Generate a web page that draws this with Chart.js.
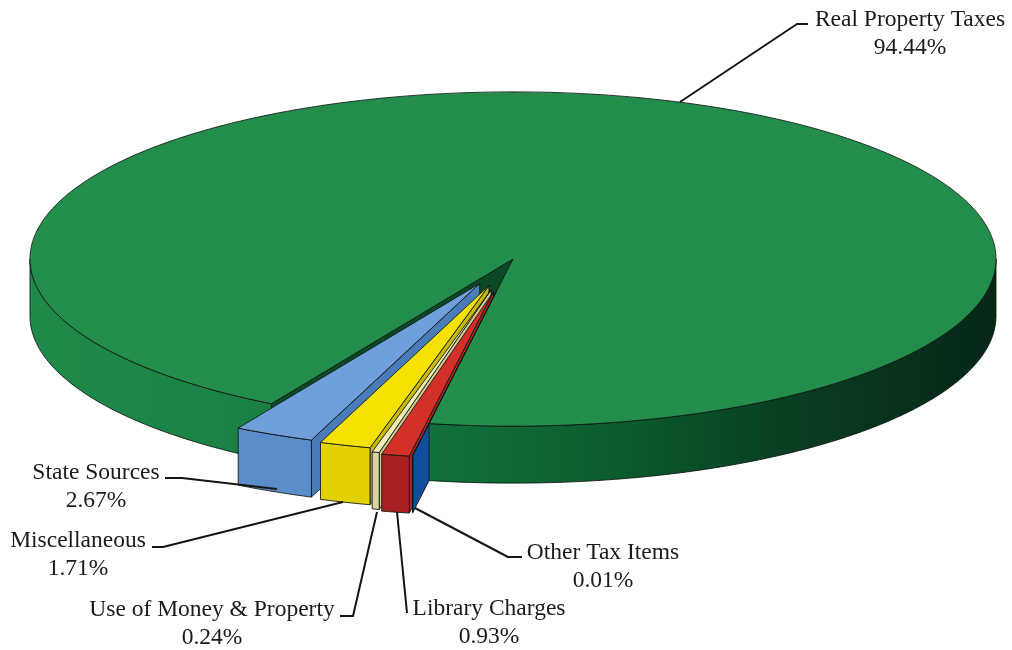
<!DOCTYPE html>
<html>
<head>
<meta charset="utf-8">
<style>
  html, body { margin: 0; padding: 0; background: #fff; }
  #pie { display: block; }
</style>
<script src="https://cdn.jsdelivr.net/npm/chart.js@4"></script>
</head>
<body>
<div style="width:1012px;height:650px"><canvas id="pie" width="1012" height="650"></canvas></div>
<script>
// data, clockwise from the front of the pie
const categories = ['Other Tax Items', 'Library Charges', 'Use of Money & Property', 'Miscellaneous', 'State Sources', 'Real Property Taxes'];
const shares = [0.01, 0.93, 0.24, 1.71, 2.67, 94.44];
const shareLabels = ['0.01%', '0.93%', '0.24%', '1.71%', '2.67%', '94.44%'];

// styles, same order as the data
const topColors = ['#0f4d9e', '#d4302a', '#f0ebb4', '#f5e200', '#6fa0dc', '#238d4c'];
const frontColors = ['#0f4d9e', '#a81f1f', '#d9d39c', '#e2d000', '#5c8dcb', '#1c8547'];
const wallColors = ['#0f4d9e', '#b52222', '#cfc98e', '#c9b800', '#4a7cba', '#0a4a26'];
// how far each slice is pulled out, before squashing
const slicePull = [94, 96, 92, 81, 78, 0];

// layout of the fake 3D
const squash = 0.346;
const depth = 57;
const pieRadius = 483;
const startRotation = 190;
const REAL = 5;
const wallOrder = [4, 3, 2, 1, 0];
const topOrder = [4, 3, 2, 0, 1];

// label text position and leader line, same order as the data
const labelX = [603, 489, 212, 78, 96, 910];
const labelY = [559, 615, 616, 547, 479, 26];
const leaders = [
  [[522, 557], [508, 557], [415, 508]],
  [[407, 613], [397, 512]],
  [[340, 616], [353, 616], [377, 512]],
  [[152, 547], [163, 547], [343, 502]],
  [[165, 478], [182, 478], [277, 489]],
  [[808, 24], [797, 24], [680, 102]]
];

function project(arc, angle, radius, z) {
  const mid = (arc.startAngle + arc.endAngle) / 2;
  return {
    x: arc.x + arc.pull * Math.cos(mid) + radius * Math.cos(angle),
    y: arc.y + squash * (arc.pull * Math.sin(mid) + radius * Math.sin(angle)) + z
  };
}

function outerWallPath(ctx, arc, a1, a2) {
  ctx.beginPath();
  const steps = Math.max(2, Math.ceil((a2 - a1) * 90));
  for (let i = 0; i <= steps; i++) {
    const p = project(arc, a1 + (a2 - a1) * i / steps, arc.outerRadius, 0);
    ctx.lineTo(p.x, p.y);
  }
  for (let i = steps; i >= 0; i--) {
    const p = project(arc, a1 + (a2 - a1) * i / steps, arc.outerRadius, depth);
    ctx.lineTo(p.x, p.y);
  }
  ctx.closePath();
}

function radialWallPath(ctx, arc, angle) {
  const a = project(arc, angle, 0, 0);
  const b = project(arc, angle, arc.outerRadius, 0);
  ctx.beginPath();
  ctx.moveTo(a.x, a.y);
  ctx.lineTo(b.x, b.y);
  ctx.lineTo(b.x, b.y + depth);
  ctx.lineTo(a.x, a.y + depth);
  ctx.closePath();
}

function topOutline(ctx, arc) {
  const tip = project(arc, arc.startAngle, 0, 0);
  ctx.beginPath();
  ctx.moveTo(tip.x, tip.y);
  const steps = Math.max(2, Math.ceil((arc.endAngle - arc.startAngle) * 90));
  for (let i = 0; i <= steps; i++) {
    const p = project(arc, arc.startAngle + (arc.endAngle - arc.startAngle) * i / steps, arc.outerRadius, 0);
    ctx.lineTo(p.x, p.y);
  }
  ctx.closePath();
  ctx.lineWidth = 1;
  ctx.strokeStyle = 'rgba(12,22,16,0.85)';
  ctx.stroke();
}

function fillStroke(ctx, fill) {
  ctx.fillStyle = fill;
  ctx.fill();
  ctx.lineWidth = 1;
  ctx.strokeStyle = 'rgba(12,22,16,0.85)';
  ctx.stroke();
}

function drawTop(ctx, arc) {
  const mid = (arc.startAngle + arc.endAngle) / 2;
  ctx.save();
  ctx.translate(arc.x, arc.y);
  ctx.scale(1, squash);
  ctx.translate(-arc.x, -arc.y);
  ctx.translate(arc.pull * Math.cos(mid), arc.pull * Math.sin(mid));
  arc.draw(ctx);
  ctx.restore();
  topOutline(ctx, arc);
}

const pie3d = {
  id: 'pie3d',
  beforeDatasetsDraw(chart) {
    const ctx = chart.ctx;
    const arcs = chart.getDatasetMeta(0).data;
    const real = arcs[REAL];
    const TAU = Math.PI * 2;
    arcs.forEach((arc, i) => { arc.pull = slicePull[i]; });

    const sideFill = ctx.createLinearGradient(real.x - pieRadius, 0, real.x + pieRadius, 0);
    sideFill.addColorStop(0, '#1f8a4a');
    sideFill.addColorStop(0.2, '#1c8246');
    sideFill.addColorStop(0.42, '#10703a');
    sideFill.addColorStop(0.62, '#0b5a2d');
    sideFill.addColorStop(0.8, '#093c20');
    sideFill.addColorStop(1, '#062616');

    // back part of the big slice: the notch wall and the rim left of the notch
    radialWallPath(ctx, real, real.startAngle);
    fillStroke(ctx, wallColors[REAL]);
    outerWallPath(ctx, real, real.startAngle, Math.PI);
    fillStroke(ctx, sideFill);

    // walls of the pulled out slices
    wallOrder.forEach(i => {
      const arc = arcs[i];
      radialWallPath(ctx, arc, arc.startAngle);
      fillStroke(ctx, wallColors[i]);
      outerWallPath(ctx, arc, arc.startAngle, arc.endAngle);
      fillStroke(ctx, frontColors[i]);
    });

    // rim right of the notch and the big top hide what is behind them
    outerWallPath(ctx, real, TAU, real.endAngle);
    fillStroke(ctx, sideFill);
    drawTop(ctx, real);

    topOrder.forEach(i => drawTop(ctx, arcs[i]));
    return false;
  },
  afterDraw(chart) {
    const ctx = chart.ctx;
    ctx.save();
    ctx.strokeStyle = '#151515';
    ctx.lineWidth = 2;
    ctx.lineJoin = 'round';
    leaders.forEach(line => {
      ctx.beginPath();
      line.forEach(p => ctx.lineTo(p[0], p[1]));
      ctx.stroke();
    });
    ctx.fillStyle = '#1a1a1a';
    ctx.font = '23.5px "Liberation Serif"';
    ctx.textAlign = 'center';
    ctx.textBaseline = 'alphabetic';
    categories.forEach((name, i) => {
      ctx.fillText(name, labelX[i], labelY[i]);
      ctx.fillText(shareLabels[i], labelX[i], labelY[i] + 28);
    });
    ctx.restore();
  }
};

new Chart(document.getElementById('pie'), {
  type: 'pie',
  data: {
    labels: categories,
    datasets: [{
      data: shares,
      backgroundColor: topColors,
      borderWidth: 0,
      hoverOffset: 0
    }]
  },
  options: {
    responsive: false,
    animation: false,
    radius: pieRadius,
    rotation: startRotation,
    layout: { padding: { left: 14, bottom: 132 } },
    events: [],
    plugins: {
      legend: { display: false },
      tooltip: { enabled: false },
      title: { display: false }
    }
  },
  plugins: [pie3d]
});
</script>
</body>
</html>
